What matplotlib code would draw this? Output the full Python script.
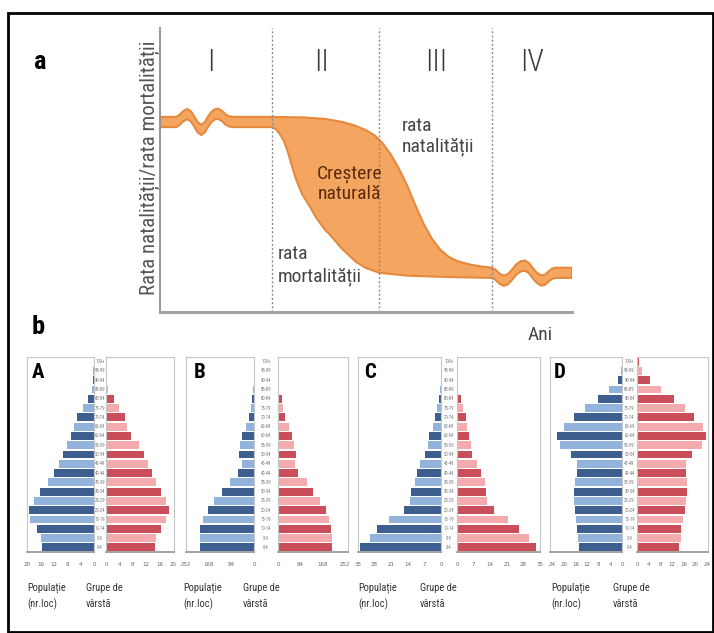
import matplotlib
matplotlib.use('Agg')
import matplotlib.pyplot as plt
import matplotlib.transforms as mtransforms
from matplotlib import font_manager
from matplotlib.patches import Rectangle

W, H = 714, 633

# ---- panel a: demographic transition (schematic) ----
stage_labels = ['I', 'II', 'III', 'IV']
stage_bounds = [27.2, 53.2, 80.6]
stage_label_x = [12.4, 39.3, 67.0, 90.3]

birth_x = [0, 4.0, 4.8, 5.6, 6.6, 7.5, 8.3, 9.1, 10.0, 10.9, 11.7, 12.5, 13.3, 14.1, 15.0, 15.9, 16.8, 17.8,
           27.2, 35, 40, 44, 47, 50, 52, 54, 56, 58, 60, 62, 64, 66, 68, 70, 72, 75, 78,
           80.6, 81.5, 82.5, 83.5, 84.5, 85.5, 86.5, 87.6, 88.6, 89.6, 90.5, 91.5, 92.5, 93.4, 94.3, 95.2, 96, 100]
birth_y = [68.7, 68.7, 69.5, 70.7, 71.5, 70.7, 68.9, 66.9, 65.9, 66.9, 68.9, 70.5, 71.4, 71.6, 70.9, 69.6, 68.9, 68.7,
           68.7, 68.5, 68.0, 67.0, 65.8, 64.0, 62.3, 59.5, 55.5, 50.5, 44.5, 37.5, 31.0, 25.8, 22.0, 19.5, 18.0, 16.8, 16.0,
           15.6, 14.8, 13.4, 12.8, 13.4, 15.0, 16.8, 17.9, 18.1, 17.2, 15.4, 13.8, 12.9, 13.1, 14.3, 15.3, 15.6, 15.6]

death_x = [0, 4.0, 4.8, 5.6, 6.6, 7.5, 8.3, 9.1, 10.0, 10.9, 11.7, 12.5, 13.3, 14.1, 15.0, 15.9, 16.8, 17.8,
           27.2, 28.2, 29, 30, 31, 32, 33, 34.5, 36.4, 38, 40, 41.2, 44, 47.6, 50, 53.2, 60, 70,
           80.6, 81.5, 82.5, 83.5, 84.5, 85.5, 86.5, 87.6, 88.6, 89.6, 90.5, 91.5, 92.5, 93.4, 94.3, 95.2, 96, 100]
death_y = [65.1, 65.1, 65.9, 67.1, 67.9, 67.1, 65.3, 63.3, 62.3, 63.3, 65.3, 66.9, 67.8, 68.0, 67.3, 66.0, 65.3, 65.1,
           65.1, 64.3, 62.8, 60.5, 56.5, 51.5, 46.8, 41.5, 37.0, 33.0, 29.0, 27.3, 22.5, 17.6, 15.5, 13.8, 12.8, 12.3,
           12.0, 11.2, 9.8, 9.2, 9.8, 11.4, 13.2, 14.3, 14.5, 13.6, 11.8, 10.2, 9.3, 9.5, 10.7, 11.7, 12.0, 12.0]

# ---- panel b: age pyramids, values from 0-4 up to 100+ ----
age_groups = ['0-4', '5-9', '10-14', '15-19', '20-24', '25-29', '30-34', '35-39', '40-44', '45-49',
              '50-54', '55-59', '60-64', '65-69', '70-74', '75-79', '80-84', '85-89', '90-94', '95-99', '100+']

a_male = [15.4, 15.9, 17.0, 19.0, 19.4, 18.0, 16.0, 13.7, 11.9, 10.4, 9.4, 8.2, 6.9, 5.9, 5.0, 3.4, 1.7, 0.5, 0.3, 0.2, 0.1]
a_female = [14.6, 15.0, 16.5, 18.0, 18.8, 18.0, 16.5, 15.0, 13.6, 12.6, 11.3, 9.9, 7.6, 6.3, 5.6, 4.0, 2.4, 0.7, 0.4, 0.2, 0.1]
b_male = [201.6, 199, 199, 190, 172, 148, 118, 88, 58, 46, 54, 52, 46, 31, 18, 10, 6, 2, 1, 0.5, 0.3]
b_female = [204, 204, 201, 193, 180, 158, 133, 108, 75, 65, 67, 60, 52, 40, 27, 20, 15, 5, 2, 1, 0.5]
c_male = [34.2, 30, 27, 22, 15.4, 13, 12.5, 11.1, 10.1, 8.7, 6.6, 5.5, 4.9, 3.4, 2.7, 1.7, 1.0, 0.3, 0.1, 0, 0]
c_female = [33.4, 30.5, 26.3, 21.6, 15.6, 12.7, 12.4, 11.7, 10.3, 8.5, 6.5, 5.7, 5.1, 4.2, 3.7, 2.5, 1.8, 0.5, 0.2, 0, 0]
d_male = [14.6, 15.1, 15.4, 15.8, 16.2, 16.6, 16.6, 16.0, 15.4, 15.4, 17.4, 21.1, 22.3, 20.0, 16.6, 12.6, 8.2, 4.6, 1.4, 0.2, 0]
d_female = [14.3, 14.9, 15.2, 15.7, 16.3, 16.6, 17.1, 17.1, 16.6, 16.8, 18.9, 22.3, 23.7, 22.5, 19.4, 16.3, 12.6, 8.3, 4.6, 1.7, 0.8]

a_ticks = [0, 4, 8, 12, 16, 20]
b_ticks = [0, 84, 168, 252]
c_ticks = [0, 7, 14, 21, 28, 35]
d_ticks = [0, 4, 8, 12, 16, 20, 24]

# pick a narrow sans that is installed
names = {f.name for f in font_manager.fontManager.ttflist}
narrow = 'DejaVu Sans'
for cand in ['Roboto Condensed', 'PT Sans Narrow', 'Archivo Narrow', 'Liberation Sans Narrow',
             'Barlow Semi Condensed', 'Asap Condensed']:
    if cand in names:
        narrow = cand
        break
fam = [narrow, 'DejaVu Sans']


def px_rect(x0, y0, x1, y1):
    return [x0 / W, 1 - y1 / H, (x1 - x0) / W, (y1 - y0) / H]


fig = plt.figure(figsize=(W / 100, H / 100), dpi=100)
fig.patches.append(Rectangle((8 / W, 1 - 632 / H), (713 - 8) / W, (632 - 13) / H,
                             transform=fig.transFigure, fill=False, lw=2, ec='black'))

ax = fig.add_axes(px_rect(160, 28, 572, 312))
ax.set_xlim(0, 100)
ax.set_ylim(0, 100)
for s in ['top', 'right']:
    ax.spines[s].set_visible(False)
ax.spines['left'].set_color('#8f8f8f')
ax.spines['left'].set_linewidth(1.3)
ax.spines['bottom'].set_color('#a3a3a3')
ax.spines['bottom'].set_linewidth(2.2)
ax.set_xticks([])
ax.set_yticks([])
ax.patch.set_alpha(0)

for b in stage_bounds:
    ax.axvline(b, color='#8c8c8c', lw=1, ls=(0, (1.5, 1.5)))

ax.fill(birth_x + death_x[::-1], birth_y + death_y[::-1],
        facecolor='#F4A560', edgecolor='#E4893E', linewidth=1.5, joinstyle='round')

for lab, x in zip(stage_labels, stage_label_x):
    ax.text(x, 88, lab, ha='center', va='center', fontsize=22, family=fam,
            weight='light', color='#3a3a3a')

ax.text(58.7, 61.8, 'rata\nnatalității', ha='left', va='center', fontsize=14,
        family=fam, color='#454545', linespacing=1.2)
ax.text(45.9, 45.1, 'Creștere\nnaturală', ha='center', va='center', fontsize=14,
        family=fam, color='#5a2c0c', linespacing=1.15)
ax.text(28.6, 16.3, 'rata\nmortalității', ha='left', va='center', fontsize=14,
        family=fam, color='#454545', linespacing=1.3)

fig.text(150 / W, 1 - 168 / H, 'Rata natalității/rata mortalității', rotation=90,
         ha='center', va='center', fontsize=15, family=fam, color='#555555')
fig.text(540 / W, 1 - 335 / H, 'Ani', ha='center', va='center', fontsize=14,
         family=fam, color='#454545')
fig.text(40 / W, 1 - 62 / H, 'a', ha='center', va='center', fontsize=19,
         family=fam, weight='bold', color='black')
fig.text(38 / W, 1 - 327 / H, 'b', ha='center', va='center', fontsize=19,
         family=fam, weight='bold', color='black')

# pyramids: (label, male, female, ticks, left box, right box, left lim, right lim, label x, pop x, grupe x)
pyramids = [
    ('A', a_male, a_female, a_ticks, (27, 94), (106, 174), 20.0, 20.3, 38, 27, 86),
    ('B', b_male, b_female, b_ticks, (186, 254), (278, 348), 252, 263, 200, 183, 243),
    ('C', c_male, c_female, c_ticks, (358, 441), (457, 540), 35, 35, 370, 358, 420),
    ('D', d_male, d_female, d_ticks, (550, 622), (637, 708), 24.7, 24.3, 560, 551, 613),
]

top, bottom = 357, 552
ypos = list(range(len(age_groups)))
dark_blue, light_blue = '#3C5F8F', '#92B3DC'
dark_red, light_red = '#C94E59', '#F4ABAE'


def style(a):
    for s in ['top', 'left', 'right']:
        a.spines[s].set_color('#c6c6c6')
        a.spines[s].set_linewidth(0.8)
    a.spines['bottom'].set_color('#8a8a8a')
    a.spines['bottom'].set_linewidth(1.1)
    a.set_yticks([])
    a.tick_params(axis='x', length=0, pad=7, labelsize=4, labelcolor='#666666')
    a.set_ylim(-0.5, 20.5)


for (lab, male, female, ticks, lb, rb, llim, rlim, lx, popx, grx) in pyramids:
    axl = fig.add_axes(px_rect(lb[0], top, lb[1], bottom))
    axr = fig.add_axes(px_rect(rb[0], top, rb[1], bottom))
    cl = [dark_blue if i % 2 == 0 else light_blue for i in ypos]
    cr = [dark_red if i % 2 == 0 else light_red for i in ypos]
    axl.barh(ypos, male, height=0.84, color=cl)
    axr.barh(ypos, female, height=0.84, color=cr)
    axl.set_xlim(llim, 0)
    axr.set_xlim(0, rlim)
    axl.set_xticks(ticks)
    axr.set_xticks(ticks)
    style(axl)
    style(axr)
    cx = (lb[1] + rb[0]) / 2 / W
    tr = mtransforms.blended_transform_factory(fig.transFigure, axl.transData)
    for i, g in enumerate(age_groups):
        axl.text(cx, i, g, transform=tr, ha='center', va='center', fontsize=3.4,
                 family=fam, color='#777777', clip_on=False)
    fig.text(lx / W, 1 - 373 / H, lab, ha='center', va='center', fontsize=15,
             family=fam, weight='bold', color='black')
    fig.text(popx / W, 1 - 596 / H, 'Populație\n(nr.loc)', ha='left', va='center', fontsize=7.5,
             family=fam, color='#333333', linespacing=1.65)
    fig.text(grx / W, 1 - 596 / H, 'Grupe de\nvârstă', ha='left', va='center', fontsize=7.5,
             family=fam, color='#333333', linespacing=1.65)

fig.savefig('out.png', dpi=100)
